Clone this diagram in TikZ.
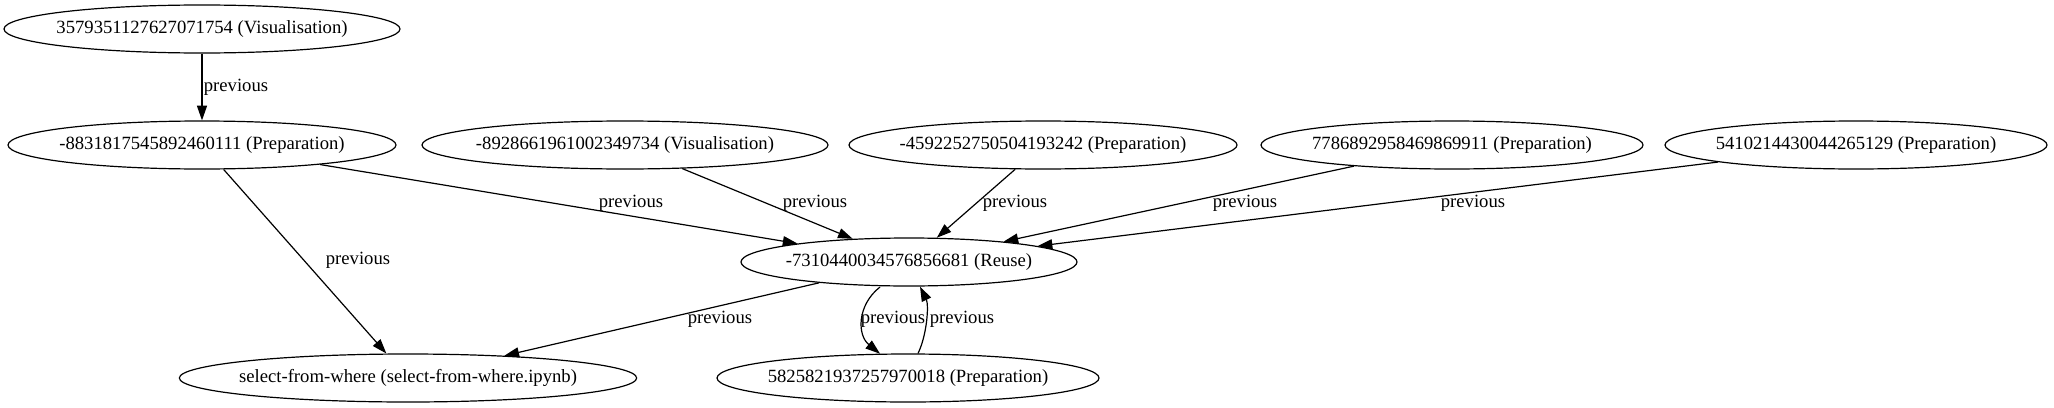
\documentclass[tikz,border=0pt]{standalone}
\usepackage{fontspec}
\setmainfont{Liberation Serif}
\usetikzlibrary{shapes.geometric,arrows.meta,calc}
\begin{document}
\begin{tikzpicture}[x=0.75pt,y=-0.75pt,
  ell/.style={draw, ellipse, line width=0.9pt, inner sep=0pt, minimum height=36pt},
  nlab/.style={font=\fontsize{14}{16}\selectfont, inner sep=0pt},
  edge/.style={draw, line width=0.9pt, -{Triangle[length=11pt,width=7.5pt]}},
  lbl/.style={font=\fontsize{14}{16}\selectfont, inner sep=0pt}]
\fill[white] (0,0) rectangle (2054,407);
\useasboundingbox (0,0) rectangle (2054,407);
% nodes
\node[ell, minimum width=297pt, label={[nlab]center:3579351127627071754 (Visualisation)}] (A) at (202,29) {};
\node[ell, minimum width=291pt, label={[nlab]center:-8831817545892460111 (Preparation)}] (B) at (202,145) {};
\node[ell, minimum width=304.5pt, label={[nlab]center:-8928661961002349734 (Visualisation)}] (C) at (625,145) {};
\node[ell, minimum width=291pt, label={[nlab]center:-4592252750504193242 (Preparation)}] (D) at (1043,145) {};
\node[ell, minimum width=286.5pt, label={[nlab]center:7786892958469869911 (Preparation)}] (E) at (1452,145) {};
\node[ell, minimum width=286.5pt, label={[nlab]center:5410214430044265129 (Preparation)}] (F) at (1856,145) {};
\node[ell, minimum width=252pt, label={[nlab]center:-7310440034576856681 (Reuse)}] (G) at (909,262) {};
\node[ell, minimum width=343pt, label={[nlab]center:select-from-where (select-from-where.ipynb)}] (H) at (408,378) {};
\node[ell, minimum width=286.5pt, label={[nlab]center:5825821937257970018 (Preparation)}] (I) at (908,378) {};
% edges
\draw[edge] (A) -- (B) node[lbl] (l1) at (236,87) {previous};
\draw[edge] (B) -- (H) node[lbl] (l2) at (358,260) {previous};
\draw[edge] (B) -- (G) node[lbl] (l3) at (631,203) {previous};
\draw[edge] (C) -- (G) node[lbl] (l4) at (815,203) {previous};
\draw[edge] (D) -- (G) node[lbl] (l5) at (1015,203) {previous};
\draw[edge] (E) -- (G) node[lbl] (l6) at (1245,203) {previous};
\draw[edge] (F) -- (G) node[lbl] (l7) at (1473,203) {previous};
\draw[edge] (G) -- (H) node[lbl] (l8) at (720,319) {previous};
\draw[edge] ($(G.south)+(-29,0.4)$) .. controls (857,305) and (857,335) .. ($(I.north)+(-28,0.3)$)
  node[lbl] (l9) at (893,319) {previous};
\draw[edge] ($(I.north)+(10,0)$) .. controls (927,335) and (929,305) .. ($(G.south)+(11,0)$)
  node[lbl] (l10) at (962,319) {previous};
\end{tikzpicture}
\end{document}
